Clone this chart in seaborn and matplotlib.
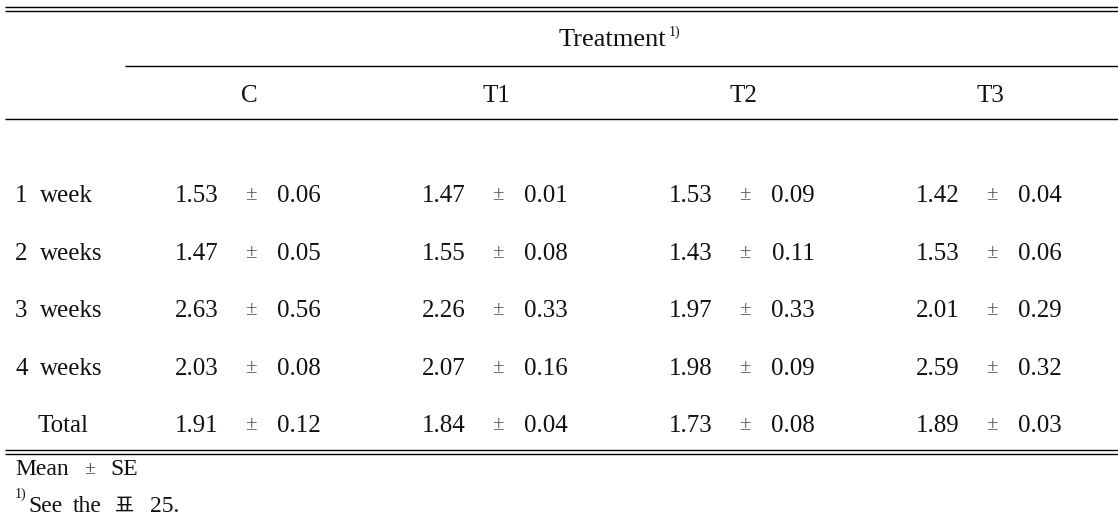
import matplotlib.pyplot as plt
import seaborn as sns

groups = ['C', 'T1', 'T2', 'T3']
rows = ['1 week', '2 weeks', '3 weeks', '4 weeks', 'Total']
means = [[1.53, 1.47, 1.53, 1.42],
         [1.47, 1.55, 1.43, 1.53],
         [2.63, 2.26, 1.97, 2.01],
         [2.03, 2.07, 1.98, 2.59],
         [1.91, 1.84, 1.73, 1.89]]
ses = [[0.06, 0.01, 0.09, 0.04],
       [0.05, 0.08, 0.11, 0.06],
       [0.56, 0.33, 0.33, 0.29],
       [0.08, 0.16, 0.09, 0.32],
       [0.12, 0.04, 0.08, 0.03]]

sns.set_theme(style='white')
plt.rcParams['font.family'] = ['Liberation Serif', 'Noto Sans CJK KR', 'DejaVu Sans']

fig = plt.figure(figsize=(11.18, 5.25), dpi=100)
ax = fig.add_axes([0, 0, 1, 1])
ax.set_xlim(0, 1118)
ax.set_ylim(525, 0)
ax.axis('off')

fs = 18
lw = 1.0
txt = dict(va='baseline', color='#111111')

# rules
ax.hlines([7, 11], 5, 1118, color='black', lw=lw)
ax.hlines(66, 125, 1118, color='black', lw=lw)
ax.hlines(119, 5, 1118, color='black', lw=lw)
ax.hlines([450, 454], 5, 1118, color='black', lw=lw)

# header
ax.text(612, 46, 'Treatment', ha='center', fontsize=fs + 1, **txt)
ax.text(669, 36, '1)', ha='left', fontsize=10, **txt)
col_x = [249, 496, 743, 990]
for g, x in zip(groups, col_x):
    ax.text(x, 102, g, ha='center', fontsize=fs, **txt)

# body
row_y = [202, 260, 317, 375, 432]
for i, (lab, y) in enumerate(zip(rows, row_y)):
    if lab == 'Total':
        ax.text(37, y, lab, ha='left', fontsize=fs, **txt)
    else:
        num, word = lab.split()
        ax.text(15, y, num, ha='left', fontsize=fs, **txt)
        ax.text(40, y, word, ha='left', fontsize=fs, **txt)
    for j, x in enumerate(col_x):
        ax.text(x - 52, y, f'{means[i][j]:.2f}', ha='center', fontsize=fs, **txt)
        ax.text(x + 2, y - 2, '±', ha='center', fontsize=15, va='baseline', color='#555555')
        ax.text(x + 50, y, f'{ses[i][j]:.2f}', ha='center', fontsize=fs, **txt)

# footnotes
fn = 17
ax.text(15, 475, 'Mean', ha='left', fontsize=fn, **txt)
ax.text(90, 474, '±', ha='center', fontsize=14, va='baseline', color='#444444')
ax.text(110, 475, 'SE', ha='left', fontsize=fn, **txt)
ax.text(15, 498, '1)', ha='left', fontsize=10, **txt)
ax.text(28, 512, 'See', ha='left', fontsize=fn, **txt)
ax.text(73, 512, 'the', ha='left', fontsize=fn, **txt)
ax.text(115, 512, '표', ha='left', fontsize=15, **txt)
ax.text(150, 512, '25.', ha='left', fontsize=fn, **txt)

fig.savefig('out.png', dpi=100)
